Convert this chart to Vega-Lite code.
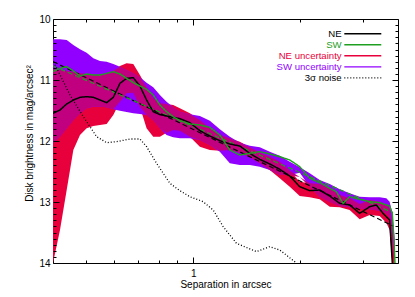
{
  "$schema": "https://vega.github.io/schema/vega-lite/v6.json",
  "width": 345,
  "height": 244,
  "autosize": "none",
  "padding": {"left": 53, "top": 19, "right": 17, "bottom": 34},
  "config": {
    "view": {"stroke": "#000000", "strokeWidth": 1},
    "font": "Liberation Sans",
    "axis": {"labelFont": "Liberation Sans", "titleFont": "Liberation Sans", "labelFontSize": 10, "titleFontSize": 10, "titleFontWeight": "normal", "grid": false, "domain": false, "tickColor": "#000000", "labelColor": "#000000", "titleColor": "#000000", "tickWidth": 1},
    "legend": {"orient": "none", "legendX": 305, "legendY": 10, "padding": 0, "symbolSize": 21, "rowPadding": 0, "labelAlign": "right", "labelBaseline": "middle", "labelOffset": -26, "labelFontSize": 9.6, "labelFont": "Liberation Sans", "symbolType": "M-8.07,0H8.07", "title": null}
  },
  "datasets": {
    "bands": [
      {"s": 0.403, "pt": 10.333, "pb": 12.038, "rt": 10.825, "rb": 14.0, "ot": 10.825, "ob": 12.038},
      {"s": 0.4217, "pt": 10.333, "pb": 11.929, "rt": 10.836, "rb": 13.459, "ot": 10.836, "ob": 11.929},
      {"s": 0.4404, "pt": 10.344, "pb": 11.792, "rt": 10.847, "rb": 12.803, "ot": 10.847, "ob": 11.792},
      {"s": 0.4598, "pt": 10.426, "pb": 11.656, "rt": 10.869, "rb": 12.148, "ot": 10.869, "ob": 11.656},
      {"s": 0.4801, "pt": 10.497, "pb": 11.546, "rt": 10.891, "rb": 11.902, "ot": 10.891, "ob": 11.546},
      {"s": 0.5012, "pt": 10.552, "pb": 11.464, "rt": 10.902, "rb": 11.792, "ot": 10.902, "ob": 11.464},
      {"s": 0.5234, "pt": 10.645, "pb": 11.437, "rt": 10.913, "rb": 11.754, "ot": 10.913, "ob": 11.437},
      {"s": 0.5465, "pt": 10.689, "pb": 11.437, "rt": 10.918, "rb": 11.738, "ot": 10.918, "ob": 11.437},
      {"s": 0.5706, "pt": 10.699, "pb": 11.448, "rt": 10.902, "rb": 11.721, "ot": 10.902, "ob": 11.448},
      {"s": 0.5958, "pt": 10.738, "pb": 11.481, "rt": 10.847, "rb": 11.574, "ot": 10.847, "ob": 11.481},
      {"s": 0.622, "pt": 10.781, "pb": 11.503, "rt": 10.77, "rb": 11.355, "ot": 10.781, "ob": 11.355},
      {"s": 0.6495, "pt": 10.836, "pb": 11.525, "rt": 10.727, "rb": 11.219, "ot": 10.836, "ob": 11.219},
      {"s": 0.6782, "pt": 10.891, "pb": 11.546, "rt": 10.738, "rb": 11.208, "ot": 10.891, "ob": 11.208},
      {"s": 0.708, "pt": 10.956, "pb": 11.557, "rt": 10.918, "rb": 11.437, "ot": 10.956, "ob": 11.437},
      {"s": 0.7393, "pt": 11.044, "pb": 11.574, "rt": 11.12, "rb": 11.792, "ot": 11.12, "ob": 11.574},
      {"s": 0.7719, "pt": 11.12, "pb": 11.656, "rt": 11.301, "rb": 11.929, "ot": 11.301, "ob": 11.656},
      {"s": 0.806, "pt": 11.246, "pb": 11.792, "rt": 11.383, "rb": 11.929, "ot": 11.383, "ob": 11.792},
      {"s": 0.8415, "pt": 11.355, "pb": 11.902, "rt": 11.393, "rb": 11.863, "ot": 11.393, "ob": 11.863},
      {"s": 0.8786, "pt": 11.448, "pb": 11.94, "rt": 11.41, "rb": 11.82, "ot": 11.448, "ob": 11.82},
      {"s": 0.9175, "pt": 11.519, "pb": 11.956, "rt": 11.464, "rb": 11.831, "ot": 11.519, "ob": 11.831},
      {"s": 0.9789, "pt": 11.563, "pb": 11.956, "rt": 11.546, "rb": 11.929, "ot": 11.563, "ob": 11.929},
      {"s": 1.0444, "pt": 11.59, "pb": 11.984, "rt": 11.656, "rb": 12.093, "ot": 11.656, "ob": 11.984},
      {"s": 1.1142, "pt": 11.667, "pb": 12.066, "rt": 11.792, "rb": 12.148, "ot": 11.792, "ob": 12.066},
      {"s": 1.1888, "pt": 11.809, "pb": 12.175, "rt": 11.902, "rb": 12.158, "ot": 11.902, "ob": 12.158},
      {"s": 1.2683, "pt": 11.929, "pb": 12.366, "rt": 11.956, "rb": 12.148, "ot": 11.956, "ob": 12.148},
      {"s": 1.3532, "pt": 12.027, "pb": 12.393, "rt": 12.011, "rb": 12.191, "ot": 12.027, "ob": 12.191},
      {"s": 1.4436, "pt": 12.077, "pb": 12.393, "rt": 12.104, "rb": 12.268, "ot": 12.104, "ob": 12.268},
      {"s": 1.5403, "pt": 12.104, "pb": 12.421, "rt": 12.191, "rb": 12.366, "ot": 12.191, "ob": 12.366},
      {"s": 1.6434, "pt": 12.175, "pb": 12.475, "rt": 12.257, "rb": 12.475, "ot": 12.257, "ob": 12.475},
      {"s": 1.7534, "pt": 12.24, "pb": 12.557, "rt": 12.339, "rb": 12.612, "ot": 12.339, "ob": 12.557},
      {"s": 1.8707, "pt": 12.339, "pb": 12.557, "rt": 12.486, "rb": 12.749, "ot": 12.486, "ob": 12.557},
      {"s": 1.9959, "pt": 12.432, "pb": 12.519, "rt": 12.667, "rb": 12.902, "ot": 12.59, "ob": 12.59},
      {"s": 2.1296, "pt": 12.53, "pb": 12.749, "rt": 12.694, "rb": 12.923, "ot": 12.694, "ob": 12.749},
      {"s": 2.2721, "pt": 12.639, "pb": 12.913, "rt": 12.705, "rb": 12.956, "ot": 12.705, "ob": 12.913},
      {"s": 2.4239, "pt": 12.705, "pb": 12.995, "rt": 12.776, "rb": 13.077, "ot": 12.776, "ob": 12.995},
      {"s": 2.5862, "pt": 12.792, "pb": 13.066, "rt": 12.885, "rb": 13.087, "ot": 12.885, "ob": 13.066},
      {"s": 2.7591, "pt": 12.858, "pb": 13.087, "rt": 12.94, "rb": 13.131, "ot": 12.94, "ob": 13.087},
      {"s": 2.9437, "pt": 12.913, "pb": 13.104, "rt": 13.033, "rb": 13.284, "ot": 13.033, "ob": 13.104},
      {"s": 3.1409, "pt": 12.923, "pb": 13.12, "rt": 12.967, "rb": 13.213, "ot": 12.967, "ob": 13.12},
      {"s": 3.3511, "pt": 12.923, "pb": 13.142, "rt": 12.995, "rb": 13.23, "ot": 12.995, "ob": 13.142},
      {"s": 3.4988, "pt": 12.94, "pb": 13.186, "rt": 13.049, "rb": 13.339, "ot": 13.049, "ob": 13.186},
      {"s": 3.575, "pt": 12.995, "pb": 13.24, "rt": 13.104, "rb": 13.459, "ot": 13.104, "ob": 13.24},
      {"s": 3.6376, "pt": 13.186, "pb": 13.623, "rt": 13.404, "rb": 14.0, "ot": 13.404, "ob": 13.623},
      {"s": 3.6929, "pt": 13.6, "pb": 14.0, "rt": 14.0, "rb": 14.0, "ot": 14.0, "ob": 14.0}
    ],
    "fits": [
      {"fit": "NE", "s": 0.403, "m": 10.699},
      {"fit": "NE", "s": 3.6534, "m": 13.393},
      {"fit": "SW", "s": 0.403, "m": 10.77},
      {"fit": "SW", "s": 3.6534, "m": 13.175}
    ],
    "lines": [
      {"series": "NE", "s": 0.403, "m": 11.546},
      {"series": "NE", "s": 0.4217, "m": 11.492},
      {"series": "NE", "s": 0.4404, "m": 11.393},
      {"series": "NE", "s": 0.4598, "m": 11.328},
      {"series": "NE", "s": 0.4801, "m": 11.284},
      {"series": "NE", "s": 0.5012, "m": 11.273},
      {"series": "NE", "s": 0.5234, "m": 11.284},
      {"series": "NE", "s": 0.5465, "m": 11.328},
      {"series": "NE", "s": 0.5706, "m": 11.372},
      {"series": "NE", "s": 0.5958, "m": 11.284},
      {"series": "NE", "s": 0.622, "m": 11.055},
      {"series": "NE", "s": 0.6495, "m": 10.973},
      {"series": "NE", "s": 0.6782, "m": 10.962},
      {"series": "NE", "s": 0.708, "m": 11.098},
      {"series": "NE", "s": 0.7393, "m": 11.328},
      {"series": "NE", "s": 0.7719, "m": 11.519},
      {"series": "NE", "s": 0.806, "m": 11.567},
      {"series": "NE", "s": 0.8415, "m": 11.59},
      {"series": "NE", "s": 0.8786, "m": 11.612},
      {"series": "NE", "s": 0.9175, "m": 11.634},
      {"series": "NE", "s": 0.9789, "m": 11.699},
      {"series": "NE", "s": 1.0444, "m": 11.831},
      {"series": "NE", "s": 1.1142, "m": 11.918},
      {"series": "NE", "s": 1.1888, "m": 11.995},
      {"series": "NE", "s": 1.2683, "m": 12.049},
      {"series": "NE", "s": 1.3532, "m": 12.082},
      {"series": "NE", "s": 1.4436, "m": 12.202},
      {"series": "NE", "s": 1.5403, "m": 12.301},
      {"series": "NE", "s": 1.6434, "m": 12.377},
      {"series": "NE", "s": 1.7534, "m": 12.464},
      {"series": "NE", "s": 1.8707, "m": 12.574},
      {"series": "NE", "s": 1.9959, "m": 12.749},
      {"series": "NE", "s": 2.1296, "m": 12.814},
      {"series": "NE", "s": 2.2721, "m": 12.803},
      {"series": "NE", "s": 2.4239, "m": 12.902},
      {"series": "NE", "s": 2.5862, "m": 13.022},
      {"series": "NE", "s": 2.7591, "m": 13.049},
      {"series": "NE", "s": 2.9437, "m": 13.186},
      {"series": "NE", "s": 3.1409, "m": 13.077},
      {"series": "NE", "s": 3.2796, "m": 13.049},
      {"series": "NE", "s": 3.4241, "m": 13.186},
      {"series": "NE", "s": 3.575, "m": 13.295},
      {"series": "NE", "s": 3.6376, "m": 14.0},
      {"series": "SW", "s": 0.403, "m": 10.863},
      {"series": "SW", "s": 0.4217, "m": 10.809},
      {"series": "SW", "s": 0.4404, "m": 10.781},
      {"series": "SW", "s": 0.4598, "m": 10.852},
      {"series": "SW", "s": 0.4801, "m": 10.934},
      {"series": "SW", "s": 0.5012, "m": 10.902},
      {"series": "SW", "s": 0.5234, "m": 10.918},
      {"series": "SW", "s": 0.5465, "m": 10.918},
      {"series": "SW", "s": 0.5706, "m": 10.891},
      {"series": "SW", "s": 0.5958, "m": 10.863},
      {"series": "SW", "s": 0.622, "m": 10.902},
      {"series": "SW", "s": 0.6495, "m": 10.973},
      {"series": "SW", "s": 0.6782, "m": 11.044},
      {"series": "SW", "s": 0.708, "m": 11.098},
      {"series": "SW", "s": 0.7393, "m": 11.153},
      {"series": "SW", "s": 0.7719, "m": 11.246},
      {"series": "SW", "s": 0.806, "m": 11.41},
      {"series": "SW", "s": 0.8415, "m": 11.519},
      {"series": "SW", "s": 0.8786, "m": 11.601},
      {"series": "SW", "s": 0.9175, "m": 11.667},
      {"series": "SW", "s": 0.9789, "m": 11.721},
      {"series": "SW", "s": 1.0444, "m": 11.738},
      {"series": "SW", "s": 1.1142, "m": 11.776},
      {"series": "SW", "s": 1.1888, "m": 11.902},
      {"series": "SW", "s": 1.2683, "m": 12.148},
      {"series": "SW", "s": 1.3532, "m": 12.23},
      {"series": "SW", "s": 1.4436, "m": 12.202},
      {"series": "SW", "s": 1.5403, "m": 12.175},
      {"series": "SW", "s": 1.6434, "m": 12.213},
      {"series": "SW", "s": 1.7534, "m": 12.257},
      {"series": "SW", "s": 1.8707, "m": 12.311},
      {"series": "SW", "s": 1.9959, "m": 12.421},
      {"series": "SW", "s": 2.1296, "m": 12.612},
      {"series": "SW", "s": 2.2721, "m": 12.683},
      {"series": "SW", "s": 2.4239, "m": 12.776},
      {"series": "SW", "s": 2.5309, "m": 12.831},
      {"series": "SW", "s": 2.6425, "m": 13.022},
      {"series": "SW", "s": 2.7591, "m": 12.913},
      {"series": "SW", "s": 2.9437, "m": 12.956},
      {"series": "SW", "s": 3.1409, "m": 12.995},
      {"series": "SW", "s": 3.3511, "m": 13.011},
      {"series": "SW", "s": 3.575, "m": 13.066},
      {"series": "SW", "s": 3.6376, "m": 13.186},
      {"series": "SW", "s": 3.6772, "m": 13.623},
      {"series": "SW", "s": 3.7008, "m": 14.0},
      {"series": "3σ noise", "s": 0.4083, "m": 10.75},
      {"series": "3σ noise", "s": 0.4499, "m": 11.246},
      {"series": "3σ noise", "s": 0.4905, "m": 11.601},
      {"series": "3σ noise", "s": 0.5348, "m": 11.929},
      {"series": "3σ noise", "s": 0.5706, "m": 12.027},
      {"series": "3σ noise", "s": 0.6087, "m": 12.011},
      {"series": "3σ noise", "s": 0.6637, "m": 11.967},
      {"series": "3σ noise", "s": 0.708, "m": 11.967},
      {"series": "3σ noise", "s": 0.7393, "m": 12.093},
      {"series": "3σ noise", "s": 0.7888, "m": 12.366},
      {"series": "3σ noise", "s": 0.86, "m": 12.694},
      {"series": "3σ noise", "s": 0.9175, "m": 12.814},
      {"series": "3σ noise", "s": 0.9789, "m": 12.913},
      {"series": "3σ noise", "s": 1.0671, "m": 12.995},
      {"series": "3σ noise", "s": 1.1385, "m": 13.131},
      {"series": "3σ noise", "s": 1.2147, "m": 13.404},
      {"series": "3σ noise", "s": 1.3243, "m": 13.678},
      {"series": "3σ noise", "s": 1.5076, "m": 13.814},
      {"series": "3σ noise", "s": 1.6434, "m": 13.732},
      {"series": "3σ noise", "s": 1.7534, "m": 13.787},
      {"series": "3σ noise", "s": 1.9533, "m": 14.0}
    ]
  },
  "layer": [
    {
      "data": {"name": "bands"},
      "mark": {"type": "area", "color": "#e8003c", "clip": true},
      "encoding": {
        "x": {"field": "s", "type": "quantitative", "scale": {"type": "log", "domain": [0.403, 3.774], "nice": false},
          "axis": {"orient": "bottom", "values": [0.5, 0.6, 0.7, 0.8, 0.9, 1, 2, 3], "labelExpr": "datum.value == 1 ? '1' : ''",
            "tickSize": {"condition": {"test": "datum.value == 1", "value": -6}, "value": -3}, "labelPadding": 11,
            "title": "Separation in arcsec", "titleY": 24, "titleBaseline": "alphabetic", "zindex": 1}},
        "y": {"field": "rt", "type": "quantitative", "scale": {"domain": [10, 14], "reverse": true, "nice": false, "zero": false},
          "axis": {"orient": "left", "values": [10, 10.1, 10.2, 10.3, 10.4, 10.5, 10.6, 10.7, 10.8, 10.9, 11, 11.1, 11.2, 11.3, 11.4, 11.5, 11.6, 11.7, 11.8, 11.9, 12, 12.1, 12.2, 12.3, 12.4, 12.5, 12.6, 12.7, 12.8, 12.9, 13, 13.1, 13.2, 13.3, 13.4, 13.5, 13.6, 13.7, 13.8, 13.9, 14],
            "labelExpr": "abs(datum.value - round(datum.value)) < 0.001 ? format(datum.value, 'd') : ''",
            "tickSize": {"condition": {"test": "abs(datum.value - round(datum.value)) < 0.001", "value": -6}, "value": -3},
            "labelPadding": 9, "title": "Disk brightness in mag/arcsec²", "titleX": -21, "titleY": 114, "titleAngle": 270, "titleBaseline": "alphabetic", "titleAlign": "center", "zindex": 1}},
        "y2": {"field": "rb"}
      }
    },
    {
      "data": {"name": "bands"},
      "mark": {"type": "area", "color": "#9100ff", "clip": true},
      "encoding": {
        "x": {"field": "s", "type": "quantitative",
          "axis": {"orient": "top", "values": [0.5, 0.6, 0.7, 0.8, 0.9, 1, 2, 3], "labels": false,
            "tickSize": {"condition": {"test": "datum.value == 1", "value": -6}, "value": -3}, "title": null, "zindex": 1}},
        "y": {"field": "pt", "type": "quantitative",
          "axis": {"orient": "right", "values": [10, 10.1, 10.2, 10.3, 10.4, 10.5, 10.6, 10.7, 10.8, 10.9, 11, 11.1, 11.2, 11.3, 11.4, 11.5, 11.6, 11.7, 11.8, 11.9, 12, 12.1, 12.2, 12.3, 12.4, 12.5, 12.6, 12.7, 12.8, 12.9, 13, 13.1, 13.2, 13.3, 13.4, 13.5, 13.6, 13.7, 13.8, 13.9, 14],
            "labels": false, "tickSize": {"condition": {"test": "abs(datum.value - round(datum.value)) < 0.001", "value": -6}, "value": -3}, "title": null, "zindex": 1}},
        "y2": {"field": "pb"}
      }
    },
    {
      "data": {"name": "bands"},
      "mark": {"type": "area", "color": "#c0007f", "clip": true},
      "encoding": {
        "x": {"field": "s", "type": "quantitative", "axis": null},
        "y": {"field": "ot", "type": "quantitative", "axis": null},
        "y2": {"field": "ob"}
      }
    },
    {
      "data": {"name": "fits"},
      "mark": {"type": "line", "strokeWidth": 1.2, "strokeDash": [5, 3], "clip": true},
      "encoding": {
        "x": {"field": "s", "type": "quantitative", "axis": null},
        "y": {"field": "m", "type": "quantitative", "axis": null},
        "detail": {"field": "fit"},
        "stroke": {"field": "fit", "type": "nominal", "scale": {"domain": ["NE", "SW"], "range": ["#000000", "#1f9f1f"]}, "legend": null}
      }
    },
    {
      "data": {"name": "lines"},
      "mark": {"type": "line", "clip": true},
      "encoding": {
        "x": {"field": "s", "type": "quantitative", "axis": null},
        "y": {"field": "m", "type": "quantitative", "axis": null},
        "color": {"field": "series", "type": "nominal",
          "scale": {"domain": ["NE", "SW", "NE uncertainty", "SW uncertainty", "3σ noise"], "range": ["#000000", "#1f9f1f", "#e8003c", "#9100ff", "#000000"]},
          "legend": {"orient": "none", "legendX": 305, "legendY": 10, "title": null,
            "symbolStrokeWidth": {"expr": "datum.value == 'NE uncertainty' || datum.value == 'SW uncertainty' ? 5 : datum.value == '3σ noise' ? 1 : 1.5"},
            "labelColor": {"expr": "datum.value == 'SW' ? '#1f9f1f' : datum.value == 'NE uncertainty' ? '#e8003c' : datum.value == 'SW uncertainty' ? '#9100ff' : '#000000'"}}},
        "strokeDash": {"field": "series", "type": "nominal",
          "scale": {"domain": ["NE", "SW", "NE uncertainty", "SW uncertainty", "3σ noise"], "range": [[1, 0], [1, 0], [1, 0], [1, 0], [1, 2]]},
          "legend": {"orient": "none", "legendX": 305, "legendY": 10, "title": null,
            "symbolStrokeWidth": {"expr": "datum.value == 'NE uncertainty' || datum.value == 'SW uncertainty' ? 5 : datum.value == '3σ noise' ? 1 : 1.5"},
            "labelColor": {"expr": "datum.value == 'SW' ? '#1f9f1f' : datum.value == 'NE uncertainty' ? '#e8003c' : datum.value == 'SW uncertainty' ? '#9100ff' : '#000000'"}}},
        "strokeWidth": {"field": "series", "type": "nominal",
          "scale": {"domain": ["NE", "SW", "NE uncertainty", "SW uncertainty", "3σ noise"], "range": [1.5, 1.3, 5, 5, 1]},
          "legend": {"orient": "none", "legendX": 305, "legendY": 10, "title": null,
            "symbolStrokeWidth": {"expr": "datum.value == 'NE uncertainty' || datum.value == 'SW uncertainty' ? 5 : datum.value == '3σ noise' ? 1 : 1.5"},
            "labelColor": {"expr": "datum.value == 'SW' ? '#1f9f1f' : datum.value == 'NE uncertainty' ? '#e8003c' : datum.value == 'SW uncertainty' ? '#9100ff' : '#000000'"}}}
      }
    }
  ],
  "resolve": {"axis": {"x": "independent", "y": "independent"}}
}
